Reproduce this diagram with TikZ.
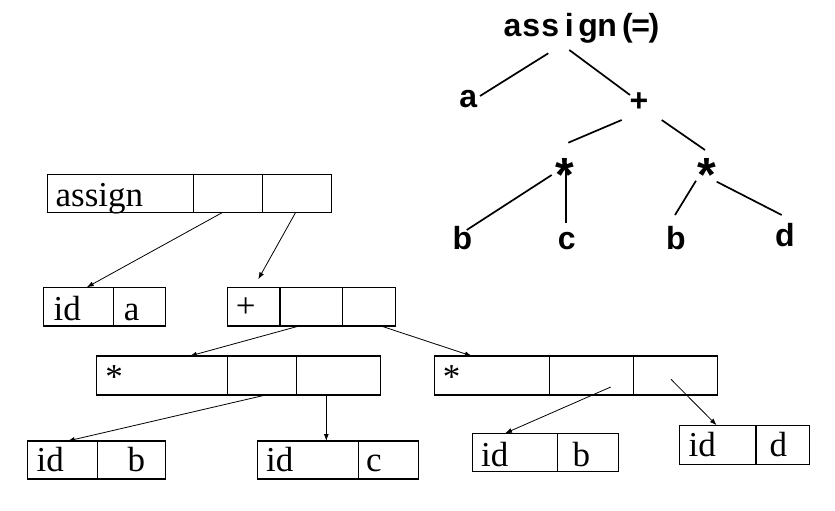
\documentclass[tikz,border=0pt]{standalone}
\usepackage{fontspec}
\setmainfont{Liberation Serif}
\newfontfamily\treefont{Liberation Sans}
\usetikzlibrary{arrows.meta}

% fixed-width slot for the spaced title letters
\newcommand\slot[2]{\makebox[#1pt]{#2}}

\begin{document}
\begin{tikzpicture}[x=1pt,y=-1pt,
  cell/.style={draw, line width=1.2pt, inner sep=0pt, outer sep=0pt, anchor=north west},
  txt/.style={font=\fontsize{35}{35}\selectfont, inner sep=0pt, anchor=base west},
  sym/.style={font=\fontsize{35}{35}\selectfont, inner sep=0pt, anchor=base},
  tl/.style={font=\treefont\bfseries\fontsize{32}{32}\selectfont, inner sep=0pt, anchor=base},
  star/.style={font=\treefont\bfseries\fontsize{48}{48}\selectfont, inner sep=0pt, anchor=base},
  edge/.style={line width=1.7pt},
  arr/.style={line width=0.8pt, -{Latex[length=7pt,width=5pt]}}]
\useasboundingbox (0,0) rectangle (835,511);

% ---------- abstract syntax tree ----------
\node[tl, anchor=base west] (root) at (502.8,37)
  {\slot{18.94}{a}\slot{18.94}{s}\slot{18.94}{s}\slot{18.94}{i}\slot{18.94}{g}\slot{18.94}{n}\hspace{4.1pt}\slot{13.3}{(}\slot{13.3}{=}\slot{13.3}{)}};
\node[tl] (ta) at (468.3,107.5) {a};
\node[tl] (tplus) at (639,111.5) {+};
\node[star] (tmulL) at (565,191) {*};
\node[star] (tmulR) at (706.7,191) {*};
\node[tl] (tb1) at (462.5,249.3) {b};
\node[tl] (tc) at (566.7,249.3) {c};
\node[tl] (tb2) at (676,249.3) {b};
\node[tl] (td) at (785,246.7) {d};

\coordinate (r-a) at (548.3,53.3);   \coordinate (a-r) at (480,96);
\coordinate (r-p) at (569.3,50);     \coordinate (p-r) at (630,95);
\coordinate (p-mL) at (621.7,120);   \coordinate (mL-p) at (568.3,142.7);
\coordinate (p-mR) at (661.7,120);   \coordinate (mR-p) at (705,150);
\coordinate (mL-b) at (551.7,175);   \coordinate (b-mL) at (466.7,230);
\coordinate (mL-c) at (566,163.3);   \coordinate (c-mL) at (566,223.3);
\coordinate (mR-b) at (696,180.7);   \coordinate (b-mR) at (675,215);
\coordinate (mR-d) at (716.7,181.7); \coordinate (d-mR) at (781.7,215);

\draw[edge] (r-a) -- (a-r);
\draw[edge] (r-p) -- (p-r);
\draw[edge] (p-mL) -- (mL-p);
\draw[edge] (p-mR) -- (mR-p);
\draw[edge] (mL-b) -- (b-mL);
\draw[edge] (mL-c) -- (c-mL);
\draw[edge] (mR-b) -- (b-mR);
\draw[edge] (mR-d) -- (d-mR);

% ---------- linked records ----------
% assign record
\node[cell, minimum width=145.6pt, minimum height=38pt] (asg1) at (47.7,174.3) {};
\node[cell, minimum width=69pt,    minimum height=38pt] (asg2) at (193.3,174.3) {};
\node[cell, minimum width=69.4pt,  minimum height=38pt] (asg3) at (262.3,174.3) {};
\node[txt] (asgT) at (55.5,206) {assign};

% id a
\node[cell, minimum width=70pt,   minimum height=38.7pt] (ida1) at (43.3,287.3) {};
\node[cell, minimum width=52.4pt, minimum height=38.7pt] (ida2) at (113.3,287.3) {};
\node[txt] (idaT) at (53.5,320) {id};
\node[txt] (idaV) at (123.7,320) {a};

% + record
\node[cell, minimum width=52.7pt, minimum height=38.7pt] (pl1) at (227.3,287.3) {};
\node[cell, minimum width=62.7pt, minimum height=38.7pt] (pl2) at (280,287.3) {};
\node[cell, minimum width=53pt,   minimum height=38.7pt] (pl3) at (342.7,287.3) {};
\node[sym] (plT) at (245.7,317.5) {+};

% left * record
\node[cell, minimum width=131pt, minimum height=39pt] (mL1) at (96.3,356) {};
\node[cell, minimum width=69pt,  minimum height=39pt] (mL2) at (227.3,356) {};
\node[cell, minimum width=84pt,  minimum height=39pt] (mL3) at (296.3,356) {};
\node[sym] (mLT) at (114,388) {*};

% right * record
\node[cell, minimum width=115pt, minimum height=39pt] (mR1) at (434.3,356) {};
\node[cell, minimum width=84pt,  minimum height=39pt] (mR2) at (549.3,356) {};
\node[cell, minimum width=84pt,  minimum height=39pt] (mR3) at (633.3,356) {};
\node[sym] (mRT) at (451.7,388) {*};

% id b (left)
\node[cell, minimum width=70pt,   minimum height=38pt] (idb1) at (27.3,441) {};
\node[cell, minimum width=68.4pt, minimum height=38pt] (idb2) at (97.3,441) {};
\node[txt] (idbT) at (36.5,471.7) {id};
\node[txt] (idbV) at (127.5,471.7) {b};

% id c
\node[cell, minimum width=101pt, minimum height=38pt] (idc1) at (257.3,441) {};
\node[cell, minimum width=60pt,  minimum height=38pt] (idc2) at (358.3,441) {};
\node[txt] (idcT) at (266,471.7) {id};
\node[txt] (idcV) at (366,471.7) {c};

% id b (right)
\node[cell, minimum width=85pt,   minimum height=38pt] (idr1) at (472.3,433.3) {};
\node[cell, minimum width=61.4pt, minimum height=38pt] (idr2) at (557.3,433.3) {};
\node[txt] (idrT) at (481,466) {id};
\node[txt] (idrV) at (572.5,466) {b};

% id d
\node[cell, minimum width=76.7pt, minimum height=39pt] (idd1) at (679.3,425.3) {};
\node[cell, minimum width=53.3pt, minimum height=39pt] (idd2) at (756,425.3) {};
\node[txt] (iddT) at (688.5,456.7) {id};
\node[txt] (iddV) at (769.5,456.7) {d};

% pointers
\draw[arr] ([xshift=-5pt]asg2.south) -- ([xshift=8.4pt]ida1.north);
\draw[arr] ([xshift=-1.3pt]asg3.south) -- ([xshift=4.6pt,yshift=8pt]pl1.north);
\draw[arr] ([xshift=-12.3pt]pl2.south) -- ([xshift=28pt]mL1.north);
\draw[arr] ([xshift=11.8pt]pl3.south) -- ([xshift=-20pt]mR1.north);
\draw[arr] ([xshift=3.9pt]mL2.south) -- ([xshift=5.4pt]idb1.north);
\draw[arr] ([xshift=-12pt]mL3.south) -- ([xshift=18.5pt]idc1.north);
\draw[arr] ([xshift=19.4pt,yshift=8pt]mR2.south) -- ([xshift=-9.8pt]idr1.north);
\draw[arr] ([xshift=-4.3pt,yshift=15.7pt]mR3.south) -- ([xshift=-1pt]idd1.north);
\end{tikzpicture}
\end{document}
